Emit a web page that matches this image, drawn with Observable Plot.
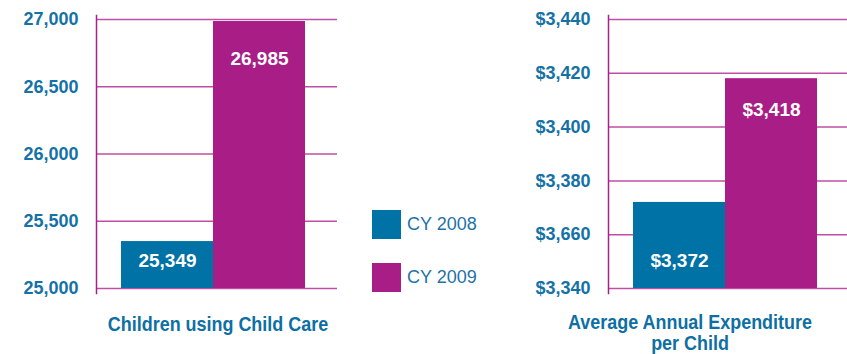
<!DOCTYPE html>
<html>
<head>
<meta charset="utf-8">
<script src="https://cdn.jsdelivr.net/npm/d3@7"></script>
<script src="https://cdn.jsdelivr.net/npm/@observablehq/plot@0.6"></script>
<style>
  html, body { margin: 0; padding: 0; background: #fff; }
  #wrap { position: relative; width: 847px; height: 354px; overflow: hidden; font-family: "Liberation Sans", Arial, sans-serif; }
  .chart { position: absolute; top: 0; }
  .title { position: absolute; text-align: center; color: #0d6fa3; font-weight: bold; font-size: 20.5px; line-height: 21px;
           font-family: "Liberation Sans", Arial, sans-serif; transform: scaleX(0.875); transform-origin: center; }
  .leg { position: absolute; display: flex; align-items: center; color: #1d73a8; font-size: 18px; }
  .sw { width: 29px; height: 29px; margin-right: 6px; }
</style>
</head>
<body>
<div id="wrap"></div>
<script>
// ---- data ----
const years = ["CY 2008", "CY 2009"];
const children = [25349, 26985];
const childrenLabels = ["25,349", "26,985"];
const childTicks = [25000, 25500, 26000, 26500, 27000];
const childTickLabels = ["25,000", "25,500", "26,000", "26,500", "27,000"];
const expenditure = [3372, 3418];
const expenditureLabels = ["$3,372", "$3,418"];
const expTicks = [3340, 3360, 3380, 3400, 3420, 3440];
const expTickLabels = ["$3,340", "$3,660", "$3,380", "$3,400", "$3,420", "$3,440"];
const titles = ["Children using Child Care", "Average Annual Expenditure<br>per Child"];

const BLUE = "#0072a6", PURPLE = "#a81e86", GRID = "#bf4fa3", AXIS = "#a5218a", TEXTBLUE = "#1572a6";

const wrap = document.getElementById("wrap");

function makeChart({left, width, marginLeft, xRange, domain, values, labels, ticks, tickLabels, topDy}) {
  const data = years.map((y, i) => ({year: y, value: values[i], label: labels[i]}));
  const chart = Plot.plot({
    width, height: 310,
    marginLeft, marginRight: 0, marginTop: 19, marginBottom: 22,
    style: {fontFamily: "'Liberation Sans', Arial, sans-serif", background: "transparent"},
    x: {domain: years, range: xRange, padding: 0, axis: null},
    y: {domain, axis: null},
    color: {domain: years, range: [BLUE, PURPLE]},
    marks: [
      Plot.ruleY(ticks, {stroke: GRID, strokeWidth: 1.5}),
      Plot.barY(data, {x: "year", y1: domain[0], y2: "value", fill: "year"}),
      Plot.text(data.filter(d => d.year === years[0]), {x: "year", text: "label", frameAnchor: "bottom", dy: -22, fill: "white", fontSize: 19, fontWeight: "bold"}),
      Plot.text(data.filter(d => d.year === years[1]), {x: "year", y: "value", text: "label", dy: topDy, fill: "white", fontSize: 19, fontWeight: "bold"}),
      Plot.axisY({ticks, label: null, tickFormat: (d) => tickLabels[ticks.indexOf(d)], tickSize: 0, tickPadding: 18, fill: TEXTBLUE, color: TEXTBLUE, fontSize: 18, fontWeight: "bold"}),
      Plot.frame({anchor: "left", stroke: AXIS, strokeWidth: 1.5, insetTop: -4, insetBottom: -5})
    ]
  });
  chart.classList.add("chart");
  chart.style.left = left + "px";
  wrap.appendChild(chart);
}

makeChart({left: 0, width: 337, marginLeft: 96, xRange: [120, 305], domain: [25000, 27000],
  values: children, labels: childrenLabels, ticks: childTicks, tickLabels: childTickLabels, topDy: 37});
makeChart({left: 500, width: 347, marginLeft: 108, xRange: [132, 317.5], domain: [3340, 3440],
  values: expenditure, labels: expenditureLabels, ticks: expTicks, tickLabels: expTickLabels, topDy: 31});

// titles
const t1 = document.createElement("div");
t1.className = "title"; t1.innerHTML = titles[0];
t1.style.left = "68px"; t1.style.width = "300px"; t1.style.top = "313px";
wrap.appendChild(t1);
const t2 = document.createElement("div");
t2.className = "title"; t2.innerHTML = titles[1];
t2.style.left = "520px"; t2.style.width = "340px"; t2.style.top = "311px";
wrap.appendChild(t2);

// legend
const colors = [BLUE, PURPLE];
const legTops = [210, 263];
years.forEach((y, i) => {
  const d = document.createElement("div");
  d.className = "leg";
  d.style.left = "372px"; d.style.top = legTops[i] + "px";
  d.innerHTML = `<div class="sw" style="background:${colors[i]}"></div><span>${y}</span>`;
  wrap.appendChild(d);
});
</script>
</body>
</html>
